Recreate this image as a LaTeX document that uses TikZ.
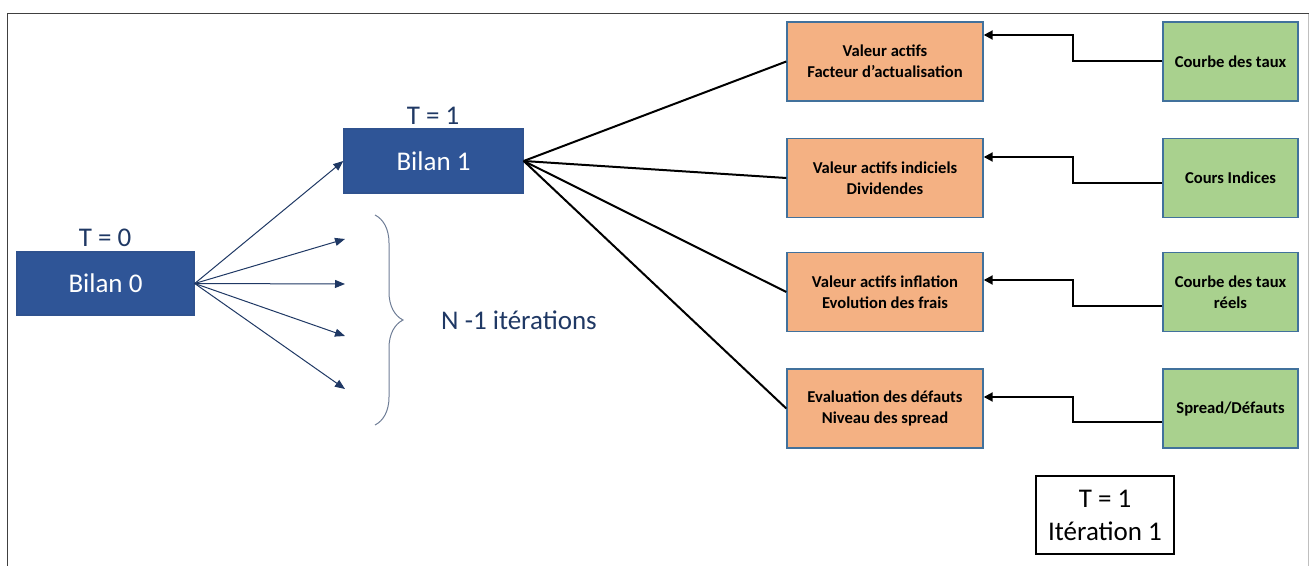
\documentclass[tikz,border=0pt]{standalone}
\usepackage{fontspec}
\setmainfont{Carlito}
\usetikzlibrary{arrows.meta,calc,decorations.pathreplacing}
\definecolor{bilanblue}{RGB}{47,85,151}
\definecolor{bilanedge}{RGB}{47,82,143}
\definecolor{navy}{RGB}{31,56,100}
\definecolor{boxedge}{RGB}{65,113,156}
\definecolor{actifs}{RGB}{244,177,131}
\definecolor{marche}{RGB}{169,209,142}
\definecolor{bracegray}{RGB}{110,125,150}

\begin{document}
\begin{tikzpicture}[x=0.5pt,y=-0.5pt,
  bilan/.style={draw=bilanedge,fill=bilanblue,text=white,line width=0.7pt,inner sep=0pt,font=\fontsize{13.5}{16}\selectfont},
  temps/.style={text=navy,font=\fontsize{13.5}{16}\selectfont},
  calcul/.style={draw=boxedge,fill=actifs,line width=0.7pt,minimum width=98pt,minimum height=39.5pt,align=center,inner sep=0pt,font=\bfseries\fontsize{8.3}{10.5}\selectfont},
  donnee/.style={draw=boxedge,fill=marche,line width=0.7pt,minimum width=67.5pt,minimum height=39.5pt,align=center,inner sep=0pt,font=\bfseries\fontsize{8.3}{10.5}\selectfont},
  fleche/.style={navy,line width=0.5pt,-{Triangle[length=5pt,width=4pt]}},
  lien/.style={black,line width=1pt},
  entree/.style={black,line width=1pt,-{Triangle[length=4.5pt,width=4.5pt]}}]
            \useasboundingbox (0,0) rectangle (1310,566);
            \draw[gray!50] (1308.5,566) -- (1308.5,13);
            \draw[black!75] (7,566) -- (7,13) -- (1308.5,13);

            \node[bilan,minimum width=88.5pt,minimum height=31.5pt] (bilan0) at (105.5,283.5) {Bilan 0};
            \node[temps] (t0) at (105,238) {T = 0};
            \node[bilan,minimum width=89.5pt,minimum height=32pt] (bilan1) at (433.5,161) {Bilan 1};
            \node[temps] (t1) at (433,116) {T = 1};

            \foreach \i/\y in {1/239,2/284,3/336,4/389} \coordinate (it\i) at (345,\y);
            \draw[fleche] (bilan0.east) -- (bilan1.west);
            \foreach \i in {1,...,4} \draw[fleche] (bilan0.east) -- (it\i);
            \draw[bracegray,line width=0.5pt,decorate,decoration={brace,amplitude=14pt}] (375,215) -- (375,425);
            \node[temps] (niter) at (519,320) {N -1 itérations};

            \node[calcul] (o1) at (885,61.5) {Valeur actifs\\Facteur d’actualisation};
            \node[calcul] (o2) at (885,178) {Valeur actifs indiciels\\Dividendes};
            \node[calcul] (o3) at (885,292) {Valeur actifs inflation\\Evolution des frais};
            \node[calcul] (o4) at (885,408.5) {Evaluation des défauts\\Niveau des spread};

            \node[donnee] (g1) at (1230.5,61.5) {Courbe des taux};
            \node[donnee] (g2) at (1230.5,178) {Cours Indices};
            \node[donnee] (g3) at (1230.5,292) {Courbe des taux\\réels};
            \node[donnee] (g4) at (1230.5,408.5) {Spread/Défauts};

            \foreach \i in {1,...,4} \draw[lien] (bilan1.east) -- (o\i.west);
            \foreach \i/\ex/\en in {1/0/-26.5,2/5/-21,3/14/-12,4/13/-11.5}
                \draw[entree] ($(g\i.west)+(0,\ex)$) -- ++(-89,0) |- ($(o\i.east)+(0,\en)$);

            \node[draw=black,line width=0.7pt,minimum width=69pt,minimum height=39pt,align=center,inner sep=0pt,font=\fontsize{13.5}{16.5}\selectfont] (iter1) at (1105,515) {T = 1\\Itération 1};
        \end{tikzpicture}
\end{document}
